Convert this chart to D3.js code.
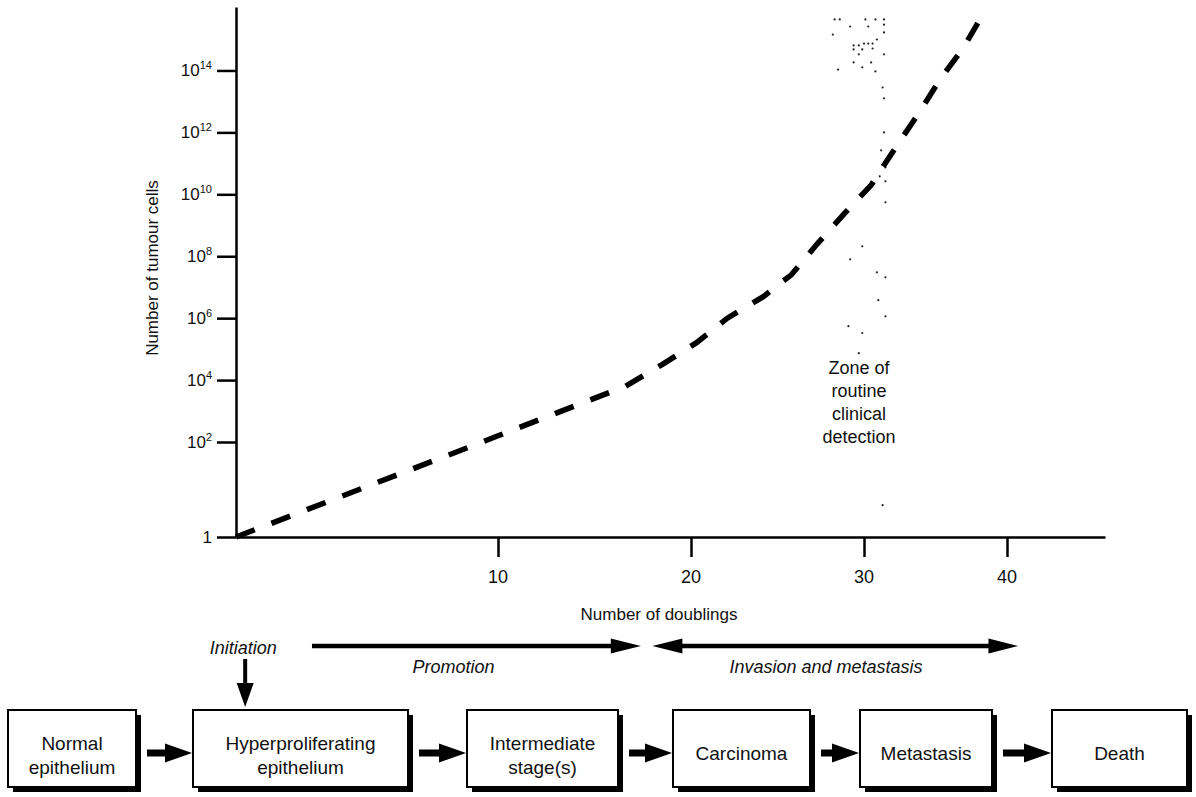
<!DOCTYPE html>
<html>
<head>
<meta charset="utf-8">
<script src="https://cdn.jsdelivr.net/npm/d3@7"></script>
<style>
  body { margin: 0; background: #fff; }
  text { font-family: "Liberation Sans", Arial, sans-serif; fill: #111; }
</style>
</head>
<body>
<div id="chart"></div>
<script>
// growth curve (x = doublings, y = log10 of cell count)
const doublings  = [0, 9.4, 10, 16.6, 18.5, 20.3, 22.1, 24.2, 25.1, 25.8, 27.3, 28.9, 30.5, 32.2, 33.8, 35.3, 36.9, 38.3];
const log10Cells = [0, 2, 2.2, 3.8, 4.5, 5.2, 6.0, 6.7, 7.1, 7.4, 8.4, 9.4, 10.3, 11.5, 12.6, 13.7, 14.7, 15.8];

const yTickPowers = [0, 2, 4, 6, 8, 10, 12, 14];
const xTickValues = [10, 20, 30, 40];

// the dotted "zone of routine clinical detection"
const zoneDoublings = [28.3, 28.6, 30.1, 30.8, 31.4, 29.2, 30.3, 31.4, 28.2, 31.4, 30.9, 29.4, 29.7, 30.0, 30.3, 30.6,
  29.4, 29.9, 30.6, 29.7, 31.4, 29.4, 30.5, 28.5, 29.9, 30.8, 31.3, 31.4, 31.4, 31.2, 31.4, 31.5, 31.1, 31.5,
  31.5, 29.9, 29.2, 30.9, 31.5, 31.0, 31.5, 29.1, 29.9, 29.7, 31.3];
const zoneLog10 = [15.65, 15.65, 15.65, 15.65, 15.65, 15.42, 15.42, 15.48, 15.16, 15.23, 15.0, 14.81, 14.81, 14.87, 14.87, 14.87,
  14.68, 14.68, 14.71, 14.52, 14.52, 14.26, 14.26, 14.03, 14.1, 13.97, 13.45, 13.1, 12.0, 11.42, 11.03, 10.87, 10.58, 10.42,
  9.74, 8.32, 7.9, 7.48, 7.32, 6.58, 6.06, 5.74, 5.52, 4.87, 0.67];
const zoneLines = ["Zone of", "routine", "clinical", "detection"];

// stages and phases
const stageNames = [["Normal", "epithelium"], ["Hyperproliferating", "epithelium"], ["Intermediate", "stage(s)"],
  ["Carcinoma"], ["Metastasis"], ["Death"]];
const phaseNames   = ["Promotion", "Invasion and metastasis"];
const phaseFrom    = [2.9, 18.0];
const phaseTo      = [17.4, 40.8];
const phaseLabelAt = [8.3, 27.8];
const phaseTwoWay  = [false, true];
const initiationAt = 0.35;

// layout of the flow boxes
const boxLeft  = [8, 193, 467, 673, 860, 1052];
const boxRight = [136, 408, 618, 810, 992, 1187];
const boxTop = 710, boxBottom = 787, shadow = 5;

const width = 1196, height = 797;

const svg = d3.select("#chart")
  .append("svg")
  .attr("width", width)
  .attr("height", height);

// the axes of the original are not evenly spaced, so use polylinear scales
const x = d3.scaleLinear()
  .domain([0, 10, 20, 30, 40, 46.85])
  .range([236, 498, 691, 864, 1007, 1105]);

const y = d3.scaleLinear()
  .domain([0, 2, 16.05])
  .range([537, 442, 7]);

// y axis
const yAxis = svg.append("g")
  .attr("transform", `translate(${x(0)},0)`)
  .call(d3.axisLeft(y).tickValues(yTickPowers).tickSize(19).tickSizeOuter(0).tickFormat(""));
yAxis.selectAll("path, line").attr("stroke", "#000").attr("stroke-width", 2.5);

const yLab = svg.append("g").selectAll("text")
  .data(yTickPowers)
  .join("text")
  .attr("x", x(0) - 24)
  .attr("y", d => y(d) + 6)
  .attr("text-anchor", "end")
  .attr("font-size", "17px");
yLab.each(function (d) {
  const t = d3.select(this);
  if (d === 0) { t.text("1"); return; }
  t.append("tspan").text("10");
  t.append("tspan").attr("dy", -7).attr("font-size", "11px").text(d);
});

svg.append("text")
  .attr("transform", `translate(158,268) rotate(-90)`)
  .attr("text-anchor", "middle")
  .attr("font-size", "17px")
  .text("Number of tumour cells");

// x axis
const xAxis = svg.append("g")
  .attr("transform", `translate(0,${y(0)})`)
  .call(d3.axisBottom(x).tickValues(xTickValues).tickSize(20).tickSizeOuter(0).tickFormat(""));
xAxis.selectAll("path, line").attr("stroke", "#000").attr("stroke-width", 2.5);

svg.append("g").selectAll("text")
  .data(xTickValues)
  .join("text")
  .attr("x", d => x(d))
  .attr("y", 583)
  .attr("text-anchor", "middle")
  .attr("font-size", "18px")
  .text(d => d);

svg.append("text")
  .attr("x", 659)
  .attr("y", 620)
  .attr("text-anchor", "middle")
  .attr("font-size", "17px")
  .text("Number of doublings");

// detection zone dots
svg.append("g").selectAll("circle")
  .data(zoneDoublings)
  .join("circle")
  .attr("cx", d => x(d))
  .attr("cy", (d, i) => y(zoneLog10[i]))
  .attr("r", 1.1)
  .attr("fill", "#222");

svg.append("g").selectAll("text")
  .data(zoneLines)
  .join("text")
  .attr("x", 859)
  .attr("y", (d, i) => 374 + i * 23)
  .attr("text-anchor", "middle")
  .attr("font-size", "18px")
  .text(d => d);

// growth curve
const line = d3.line()
  .x(d => x(d))
  .y((d, i) => y(log10Cells[i]));

svg.append("path")
  .attr("d", line(doublings))
  .attr("fill", "none")
  .attr("stroke", "#000")
  .attr("stroke-width", 5.5)
  .attr("stroke-dasharray", "20 18");

// arrow helpers
function headPath(tipX, tipY, dx, dy, len, half) {
  // dx,dy unit direction the arrow points to
  const bx = tipX - dx * len, by = tipY - dy * len;
  const px = -dy * half, py = dx * half;
  return `M${tipX},${tipY}L${bx + px},${by + py}L${bx - px},${by - py}Z`;
}

function hArrow(g, x0, x1, yy, shaft, len, half, twoWay) {
  g.append("line")
    .attr("x1", twoWay ? x0 + len - 2 : x0).attr("x2", x1 - len + 2)
    .attr("y1", yy).attr("y2", yy)
    .attr("stroke", "#000").attr("stroke-width", shaft);
  g.append("path").attr("d", headPath(x1, yy, 1, 0, len, half)).attr("fill", "#000");
  if (twoWay) g.append("path").attr("d", headPath(x0, yy, -1, 0, len, half)).attr("fill", "#000");
}

// phase arrows
const phases = svg.append("g");
phaseNames.forEach((name, i) => {
  hArrow(phases, x(phaseFrom[i]), x(phaseTo[i]), 646, 4.5, 30, 7.5, phaseTwoWay[i]);
  phases.append("text")
    .attr("x", x(phaseLabelAt[i]))
    .attr("y", 673)
    .attr("text-anchor", "middle")
    .attr("font-size", "18px")
    .attr("font-style", "italic")
    .text(name);
});

// initiation
svg.append("text")
  .attr("x", x(initiationAt) - 2)
  .attr("y", 654)
  .attr("text-anchor", "middle")
  .attr("font-size", "18px")
  .attr("font-style", "italic")
  .text("Initiation");
svg.append("line")
  .attr("x1", x(initiationAt)).attr("x2", x(initiationAt))
  .attr("y1", 659).attr("y2", 686)
  .attr("stroke", "#000").attr("stroke-width", 4);
svg.append("path")
  .attr("d", headPath(x(initiationAt), 707, 0, 1, 24, 8.5))
  .attr("fill", "#000");

// stage boxes
const boxes = svg.append("g").selectAll("g")
  .data(stageNames)
  .join("g");

boxes.append("rect")
  .attr("x", (d, i) => boxLeft[i] + shadow)
  .attr("y", boxTop + shadow)
  .attr("width", (d, i) => boxRight[i] - boxLeft[i])
  .attr("height", boxBottom - boxTop)
  .attr("fill", "#000");

boxes.append("rect")
  .attr("x", (d, i) => boxLeft[i])
  .attr("y", boxTop)
  .attr("width", (d, i) => boxRight[i] - boxLeft[i])
  .attr("height", boxBottom - boxTop)
  .attr("fill", "#fff")
  .attr("stroke", "#000")
  .attr("stroke-width", 2);

boxes.each(function (d, i) {
  const cx = (boxLeft[i] + boxRight[i]) / 2;
  const g = d3.select(this);
  const y0 = d.length === 1 ? 760 : 750;
  d.forEach((ln, k) => {
    g.append("text")
      .attr("x", cx)
      .attr("y", y0 + k * 24)
      .attr("text-anchor", "middle")
      .attr("font-size", "19px")
      .text(ln);
  });
});

// arrows between boxes
const links = svg.append("g");
for (let i = 0; i < stageNames.length - 1; i++) {
  hArrow(links, boxRight[i] + shadow + 6, boxLeft[i + 1] - 1, 753, 7, 27, 9.5, false);
}
</script>
</body>
</html>
